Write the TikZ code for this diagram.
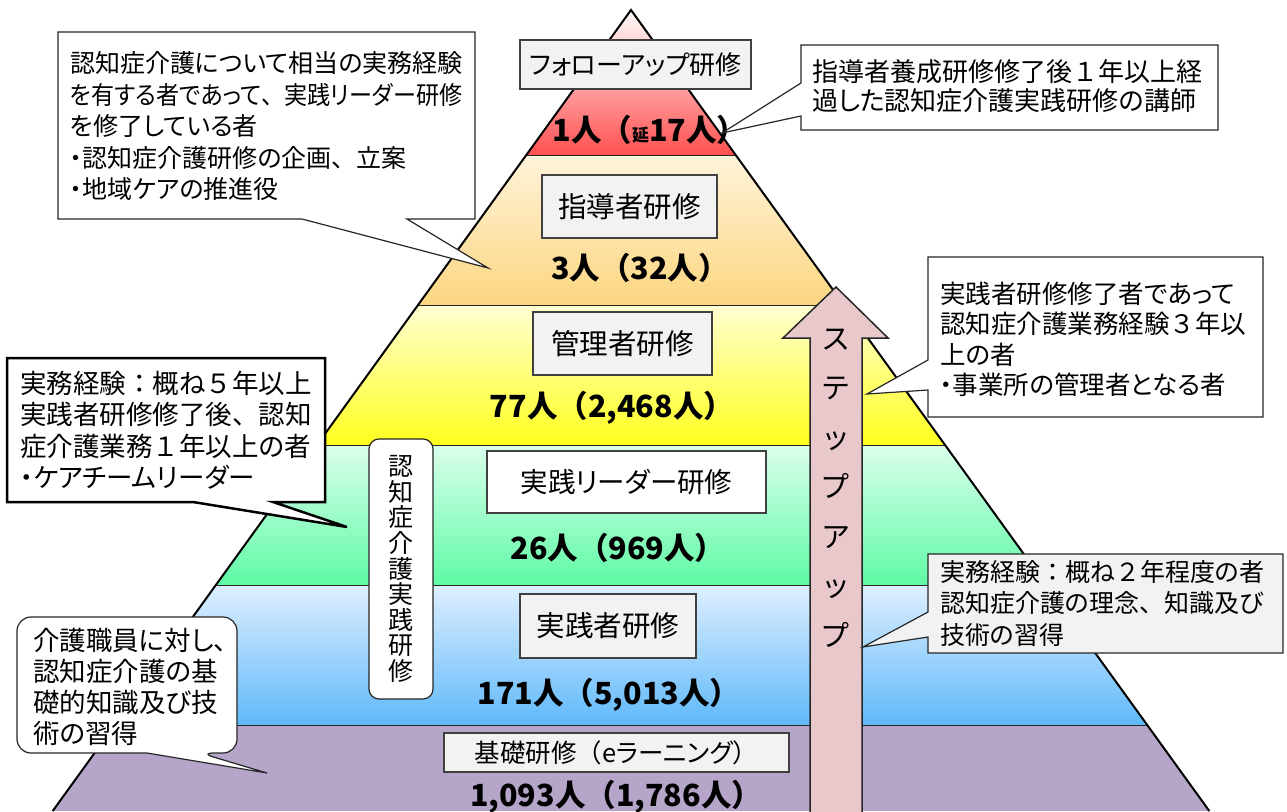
\documentclass[tikz,border=0pt]{standalone}
\usepackage{graphicx}
\usepackage{fontspec}
\setmainfont{Noto Sans CJK JP}[RawFeature=+palt]
\newfontfamily\fw{Noto Sans CJK JP}
\definecolor{boxgray}{RGB}{242,242,242}
\definecolor{redtop}{RGB}{255,250,250}
\definecolor{redbot}{RGB}{255,80,80}
\definecolor{ortop}{RGB}{255,243,218}
\definecolor{orbot}{RGB}{252,214,128}
\definecolor{yetop}{RGB}{255,255,210}
\definecolor{yebot}{RGB}{255,255,30}
\definecolor{grtop}{RGB}{218,255,236}
\definecolor{grbot}{RGB}{95,250,165}
\definecolor{bltop}{RGB}{222,239,255}
\definecolor{blbot}{RGB}{95,185,250}
\definecolor{purp}{RGB}{181,165,201}
\definecolor{arrowpink}{RGB}{232,200,202}
\newcommand{\F}[1]{{\fw #1}}
\begin{document}
\begin{tikzpicture}[x=1pt,y=-1pt,
  lbl/.style={draw=black!75, line width=1.2pt, fill=boxgray, inner sep=0pt},
  num/.style={font=\fw\bfseries\fontsize{30.5}{30.5}\selectfont, inner sep=0pt},
  co/.style={draw=black!85, line width=1.2pt, fill=white},
  cotext/.style={align=left, inner sep=0pt, anchor=west, font=\fontsize{26.5}{31.5}\selectfont},
  layerline/.style={draw=black!85, line width=1pt}]
\useasboundingbox (0,0) rectangle (1287,811);
\clip (0,0) rectangle (1287,811);
% pyramid layers
\shade[top color=redtop, bottom color=redbot] (631,10) -- (735.7,155) -- (526.3,155) -- cycle;
\shade[top color=ortop, bottom color=orbot] (526.3,155) -- (735.7,155) -- (844,305) -- (418,305) -- cycle;
\shade[top color=yetop, bottom color=yebot] (418,305) -- (844,305) -- (945,445) -- (317,445) -- cycle;
\shade[top color=grtop, bottom color=grbot] (317,445) -- (945,445) -- (1046,585) -- (216,585) -- cycle;
\shade[top color=bltop, bottom color=blbot] (216,585) -- (1046,585) -- (1147,725) -- (115,725) -- cycle;
\fill[purp] (115,725) -- (1147,725) -- (1209.3,811) -- (52.7,811) -- cycle;
\coordinate (apex) at (631,10);
\coordinate (bl) at (52.7,811);
\coordinate (br) at (1209.3,811);
\draw[layerline] (526.3,155) -- (735.7,155);
\draw[layerline] (418,305) -- (844,305);
\draw[layerline] (317,445) -- (945,445);
\draw[layerline] (216,585) -- (1046,585);
\draw[layerline] (115,725) -- (1147,725);
\draw[line width=2pt, line join=miter] (bl) -- (apex) -- (br);

% layer labels
\node[lbl, minimum width=231, minimum height=49, font=\fontsize{26}{26}\selectfont] (follow) at (635.5,64.5) {フォローアップ研修};
\node[num] (n1) at (650,130) {1人（{\fontsize{17}{17}\selectfont 延}17人）};
\node[lbl, minimum width=175, minimum height=63, font=\fontsize{28.5}{28.5}\selectfont] (shido) at (629.5,206.5) {指導者研修};
\node[num] (n2) at (640,268) {3人（32人）};
\node[lbl, minimum width=179, minimum height=63, font=\fontsize{28.5}{28.5}\selectfont] (kanri) at (622.5,343.5) {管理者研修};
\node[num] (n3) at (612,408) {77人（2,468人）};
\node[lbl, fill=white, minimum width=279, minimum height=62, font=\fontsize{27.5}{27.5}\selectfont] (leader) at (626.5,482) {実践リーダー研修};
\node[num] (n4) at (618,548) {26人（969人）};
\node[lbl, minimum width=176, minimum height=64, font=\fontsize{28.5}{28.5}\selectfont] (jissen) at (608,626) {実践者研修};
\node[num] (n5) at (609,695) {171人（5,013人）};
\node[lbl, minimum width=345, minimum height=39, font=\fontsize{25.5}{25.5}\selectfont] (kiso) at (616.5,752.5) {基礎研修\F{（}eラーニング\F{）}};
\node[num] (n6) at (616,797) {1,093人（1,786人）};

% vertical rounded label
\node[draw=black!85, line width=1.2pt, fill=white, rounded corners=10pt, minimum width=64, minimum height=260, inner sep=0pt,
  align=center, font=\fontsize{25}{25.6}\selectfont] (tate) at (401,569) {認\\知\\症\\介\\護\\実\\践\\研\\修};

% step-up arrow
\draw[draw=black!85, line width=1.5pt, fill=arrowpink, line join=miter]
  (810,830) -- (810,338) -- (783,338) -- (836,287) -- (888,338) -- (862,338) -- (862,830) -- cycle;
\node[align=center, inner sep=0pt, font=\fontsize{29}{49.5}\selectfont] (step) at (836,488) {ス\\テ\\ッ\\プ\\ア\\ッ\\プ};

% callout 1 top-left
\draw[co] (58,32) -- (475,32) -- (475,219) -- (407,219) -- (488,268) -- (302,219) -- (58,219) -- cycle;
\node[cotext, font=\fontsize{25}{31.5}\selectfont] (t1) at (70,126.5) {認知症介護について相当の実務経験\\\resizebox{392pt}{\height}{を有する者であって\F{、}実践リーダー研修}\\を修了している者\\・認知症介護研修の企画\F{、}立案\\・地域ケアの推進役};

% callout 2 top-right
\draw[co] (801,45) -- (1218,45) -- (1218,130) -- (801,130) -- (801,116) -- (722,133) -- (801,83) -- cycle;
\node[cotext, font=\fontsize{26}{29}\selectfont] (t2) at (812,86) {指導者養成研修修了後\F{１}年以上経\\過した認知症介護実践研修の講師};

% callout 3 right-middle
\draw[co] (928,257) -- (1263,257) -- (1263,417) -- (928,417) -- (928,390) -- (867,394) -- (928,360) -- cycle;
\node[cotext, font=\fontsize{25.5}{30.5}\selectfont] (t3) at (940,339.5) {実践者研修修了者であって\\認知症介護業務経験\F{３}年以\\上の者\\・事業所の管理者となる者};

% callout 4 left-middle
\draw[co, line width=2.5pt, draw=black] (7,358) -- (325,358) -- (325,502) -- (273,502) -- (347,527) -- (193,502) -- (7,502) -- cycle;
\node[cotext] (t4) at (20,430) {実務経験\F{：}概ね\F{５}年以上\\実践者研修修了後\F{、}認知\\症介護業務\F{１}年以上の者\\・ケアチームリーダー};

% callout 5 right-lower
\draw[co, fill=boxgray] (928,554) -- (1283,554) -- (1283,653) -- (928,653) -- (928,637) -- (863,647) -- (928,612) -- cycle;
\node[cotext, font=\fontsize{25}{31.5}\selectfont] (t5) at (940,603) {実務経験\F{：}概ね\F{２}年程度の者\\認知症介護の理念\F{、}知識及び\\技術の習得};

% callout 6 bottom-left rounded
\draw[co, rounded corners=14pt] (147,753) -- (17,753) -- (17,617) -- (237,617) -- (237,753) -- (200,753) [sharp corners] -- (267,773) -- cycle;
\node[cotext, font=\fontsize{26.5}{31}\selectfont] (t6) at (33,687) {介護職員に対し\F{、}\\認知症介護の基\\礎的知識及び技\\術の習得};
\end{tikzpicture}
\end{document}
